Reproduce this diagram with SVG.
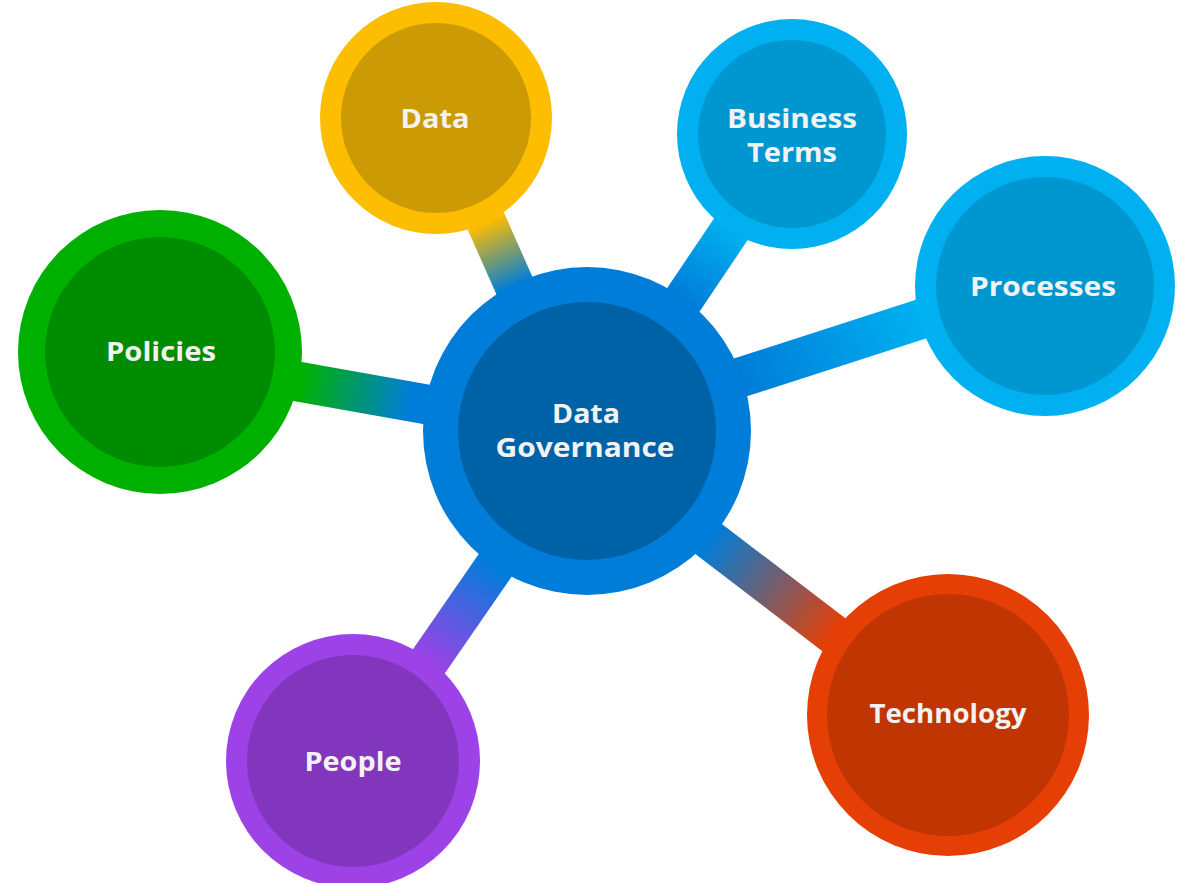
<svg xmlns="http://www.w3.org/2000/svg" width="1191" height="883" viewBox="0 0 1191 883">
<style>
.lbl{font-family:"Open Sans","Liberation Sans",sans-serif;font-weight:700;font-size:27px;fill:#F2F2F2;text-anchor:middle}
.bar{stroke-width:40;stroke-linecap:butt;fill:none}
</style>
<defs>
<linearGradient id="gData" gradientUnits="userSpaceOnUse" x1="486" y1="222" x2="515" y2="286"><stop offset="0" stop-color="#FDBD00"/><stop offset="1" stop-color="#007DD8"/></linearGradient>
<linearGradient id="gPol" gradientUnits="userSpaceOnUse" x1="301" y1="381" x2="410" y2="401"><stop offset="0" stop-color="#00B000"/><stop offset="1" stop-color="#007DD8"/></linearGradient>
<linearGradient id="gBT" gradientUnits="userSpaceOnUse" x1="731" y1="229" x2="684" y2="299"><stop offset="0" stop-color="#00B0F0"/><stop offset="1" stop-color="#007DD8"/></linearGradient>
<linearGradient id="gProc" gradientUnits="userSpaceOnUse" x1="920" y1="319" x2="742" y2="377"><stop offset="0" stop-color="#00B0F0"/><stop offset="1" stop-color="#007DD8"/></linearGradient>
<linearGradient id="gTech" gradientUnits="userSpaceOnUse" x1="834" y1="635" x2="709" y2="540"><stop offset="0" stop-color="#E53F06"/><stop offset="1" stop-color="#007DD8"/></linearGradient>
<linearGradient id="gPeople" gradientUnits="userSpaceOnUse" x1="428" y1="663" x2="495" y2="565"><stop offset="0" stop-color="#9D42E6"/><stop offset="1" stop-color="#007DD8"/></linearGradient>
</defs>
<rect width="1191" height="883" fill="#FFFFFF"/>
<g id="connectors">
<line class="bar" stroke="url(#gData)" x1="440" y1="118" x2="579" y2="431"/>
<line class="bar" stroke="url(#gPol)" x1="160" y1="357" x2="587" y2="433"/>
<line class="bar" stroke="url(#gBT)" x1="595" y1="431" x2="795" y2="134"/>
<line class="bar" stroke="url(#gProc)" x1="587" y1="427" x2="1045" y2="279"/>
<line class="bar" stroke="url(#gTech)" x1="587" y1="446" x2="948" y2="722"/>
<line class="bar" stroke="url(#gPeople)" x1="588" y1="431" x2="360" y2="761"/>
</g>
<g id="node-governance">
<circle cx="587" cy="431" r="164" fill="#007DD8"/>
<circle cx="587" cy="431" r="129" fill="#0062A6"/>
<text class="lbl" x="586" y="423" textLength="68" lengthAdjust="spacingAndGlyphs">Data</text>
<text class="lbl" x="585" y="457" textLength="179" lengthAdjust="spacingAndGlyphs">Governance</text>
</g>
<g id="node-data">
<circle cx="436" cy="118" r="116" fill="#FDBD00"/>
<circle cx="436" cy="118" r="95" fill="#CC9A05"/>
<text class="lbl" x="435" y="128" textLength="69" lengthAdjust="spacingAndGlyphs">Data</text>
</g>
<g id="node-business-terms">
<circle cx="792" cy="134" r="115" fill="#00B0F0"/>
<circle cx="792" cy="134" r="94" fill="#0097D1"/>
<text class="lbl" x="792" y="128" textLength="130" lengthAdjust="spacingAndGlyphs">Business</text>
<text class="lbl" x="792" y="162" textLength="90" lengthAdjust="spacingAndGlyphs">Terms</text>
</g>
<g id="node-processes">
<circle cx="1045" cy="286" r="130" fill="#00B0F0"/>
<circle cx="1045" cy="286" r="109" fill="#0097D1"/>
<text class="lbl" x="1043" y="296" textLength="146" lengthAdjust="spacingAndGlyphs">Processes</text>
</g>
<g id="node-policies">
<circle cx="160" cy="352" r="142" fill="#00B000"/>
<circle cx="160" cy="352" r="115" fill="#008C00"/>
<text class="lbl" x="161" y="361" textLength="110" lengthAdjust="spacingAndGlyphs">Policies</text>
</g>
<g id="node-people">
<circle cx="353" cy="761" r="127" fill="#9D42E6"/>
<circle cx="353" cy="761" r="106" fill="#8236BD"/>
<text class="lbl" x="353" y="771" textLength="97" lengthAdjust="spacingAndGlyphs">People</text>
</g>
<g id="node-technology">
<circle cx="948" cy="715" r="141" fill="#E53F06"/>
<circle cx="948" cy="715" r="121" fill="#C03502"/>
<text class="lbl" x="948" y="723" textLength="157" lengthAdjust="spacingAndGlyphs">Technology</text>
</g>
</svg>
